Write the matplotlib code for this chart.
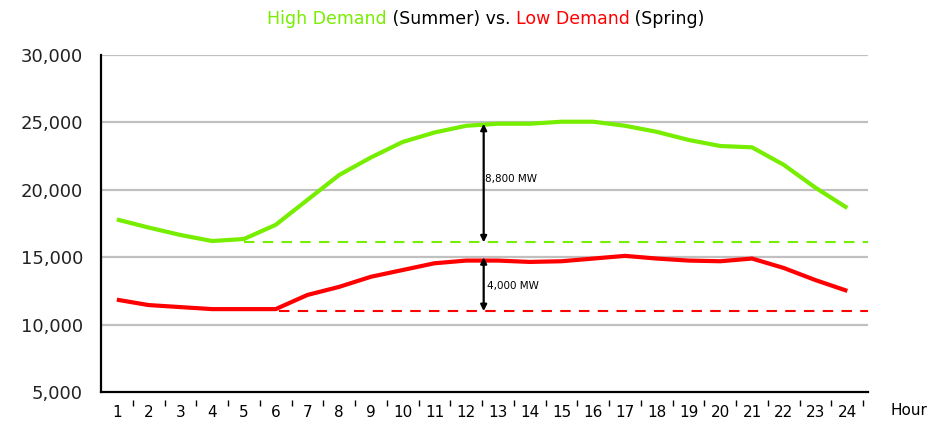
import numpy as np
import matplotlib.pyplot as plt
from matplotlib.offsetbox import TextArea, HPacker, AnnotationBbox
from matplotlib.ticker import FuncFormatter, MultipleLocator

hours = list(range(1, 25))
summer = [17800, 17200, 16650, 16200, 16350, 17400, 19250, 21100, 22400, 23550,
          24250, 24750, 24900, 24900, 25050, 25050, 24750, 24300, 23700, 23250,
          23150, 21850, 20150, 18650]
spring = [11850, 11450, 11300, 11150, 11150, 11150, 12200, 12800, 13550, 14050,
          14550, 14750, 14750, 14650, 14700, 14900, 15100, 14900, 14750, 14700,
          14900, 14200, 13300, 12500]

summer_base, summer_gap = 16100, 8800
spring_base, spring_gap = 11000, 4000
gap_hour = 12.55

green = '#77EE00'
red = '#FF0000'

fig = plt.figure(figsize=(9.29, 4.29), dpi=100)
ax = fig.add_axes([0.1087, 0.0862, 0.8256, 0.7856])

ax.set_xlim(0.5, 24.65)
ax.set_ylim(5000, 30000)

for y in range(10000, 30001, 5000):
    ax.axhline(y, color='#C0C0C0', lw=1.6, zorder=1)

ax.plot(hours, summer, color=green, lw=3, zorder=3, solid_capstyle='butt')
ax.plot(hours, spring, color=red, lw=3, zorder=3, solid_capstyle='butt')

ax.hlines(summer_base, 5, 24.65, colors=green, linestyles=(0, (5, 4)), lw=1.5, zorder=2)
ax.hlines(spring_base, 6.1, 24.65, colors=red, linestyles=(0, (5, 4)), lw=1.5, zorder=2)

ax.annotate('', xy=(gap_hour, summer_base + summer_gap), xytext=(gap_hour, summer_base),
            arrowprops=dict(arrowstyle='<|-|>', color='black', lw=1.6,
                            mutation_scale=9, shrinkA=0, shrinkB=0), zorder=4)
ax.annotate('', xy=(gap_hour, spring_base + spring_gap), xytext=(gap_hour, spring_base),
            arrowprops=dict(arrowstyle='<|-|>', color='black', lw=1.6,
                            mutation_scale=9, shrinkA=0, shrinkB=0), zorder=4)
ax.text(gap_hour + 0.05, summer_base + summer_gap / 2 + 300, f'{summer_gap:,} MW',
        fontsize=7.5, va='center', ha='left')
ax.text(gap_hour + 0.1, spring_base + spring_gap / 2 - 150, f'{spring_gap:,} MW',
        fontsize=7.5, va='center', ha='left')

for s in ['top', 'right']:
    ax.spines[s].set_visible(False)
for s in ['left', 'bottom']:
    ax.spines[s].set_linewidth(1.6)

ax.set_yticks(range(5000, 30001, 5000))
ax.yaxis.set_major_formatter(FuncFormatter(lambda v, p: f'{int(v):,}'))
ax.tick_params(axis='y', length=0, pad=13, labelsize=13, labelcolor='#222222')
ax.set_xticks(hours)
ax.tick_params(axis='x', which='major', length=0, pad=9, labelsize=11)
ax.xaxis.set_minor_locator(MultipleLocator(1, offset=0.5))
ax.tick_params(axis='x', which='minor', length=0)
trans = ax.get_xaxis_transform()
ax.vlines(np.arange(1.5, 25, 1), -0.025, -0.04, colors='black', lw=1, transform=trans, clip_on=False)

ax.text(1.03, -0.055, 'Hour', transform=ax.transAxes, fontsize=11, va='center', ha='left',
        clip_on=False)

parts = [('High Demand', green), (' (Summer) vs. ', 'black'),
         ('Low Demand', red), (' (Spring)', 'black')]
box = HPacker(children=[TextArea(t, textprops=dict(color=c, fontsize=12.5)) for t, c in parts],
              align='baseline', pad=0, sep=0)
ab = AnnotationBbox(box, (0.523, 0.955), xycoords='figure fraction', frameon=False,
                    box_alignment=(0.5, 0.5))
fig.add_artist(ab)

fig.savefig('out.png', dpi=100)
